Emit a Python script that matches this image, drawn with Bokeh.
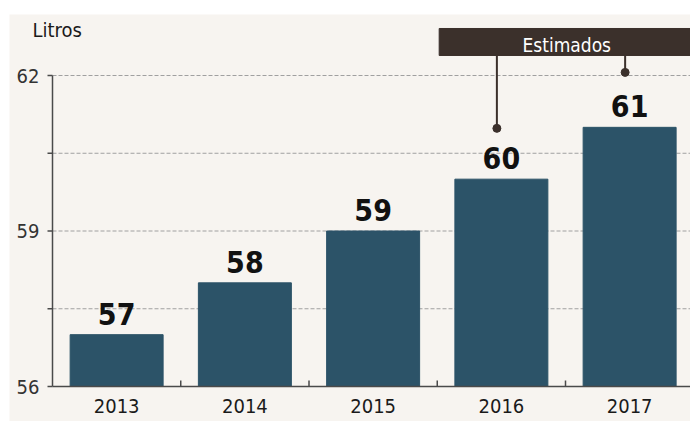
from bokeh.plotting import figure
from bokeh.models import Range1d, Spacer
from bokeh.layouts import column, row
from bokeh.core.properties import value
from bokeh.embed import file_html
from bokeh.resources import INLINE

# ---- data ----
years = ["2013", "2014", "2015", "2016", "2017"]
litros = [57, 58, 59, 60, 61]
y_ticks = [56, 59, 62]
y_minor_ticks = [57.5, 60.5]
estimated_years = ["2016", "2017"]
unit_label = "Litros"
estimate_label = "Estimados"

# ---- style ----
FONT = "DejaVu Sans Condensed, DejaVu Sans, sans-serif"
BG = "#f7f4f0"
BAR = "#2c5368"
DARK = "#3b302b"
AXIS = "#4a4a4a"
GRID = "#a0a0a0"

W, H = 681, 407                 # figure size (frame fills it)
dx = 1 / 128.25                 # data units per pixel (x)
dy = (y_ticks[-1] - y_ticks[0]) / 311   # data units per pixel (y)
x_start = -0.5 - 43 * dx
x_end = x_start + W * dx
y_start = y_ticks[0] - 35 * dy
y_end = y_start + H * dy

xs = list(range(len(years)))
est_idx = [years.index(y) for y in estimated_years]
est_vals = [litros[i] for i in est_idx]
axis_x = -0.5
base = y_ticks[0]

p = figure(width=W, height=H, output_backend="svg", toolbar_location=None,
           x_range=Range1d(x_start, x_end), y_range=Range1d(y_start, y_end),
           min_border=0, background_fill_color=BG, border_fill_color=BG,
           outline_line_color=None)
p.xgrid.visible = False
p.ygrid.visible = False
p.xaxis.visible = False
p.yaxis.visible = False

# horizontal dashed grid lines
grid_vals = sorted([v for v in y_ticks + y_minor_ticks if v > base])
p.segment(x0=[axis_x] * len(grid_vals), x1=[x_end] * len(grid_vals),
          y0=grid_vals, y1=grid_vals, line_color=GRID, line_dash="4 2", line_width=1)

# bars
p.vbar(x=xs, top=litros, bottom=base, width=0.725, color=BAR)

# x axis
p.segment(x0=[axis_x], x1=[x_end], y0=[base], y1=[base], line_color=AXIS, line_width=1.5)
minor_x = [i + 0.5 for i in xs[:-1]]
p.segment(x0=minor_x, x1=minor_x, y0=[base] * len(minor_x),
          y1=[base + 6 * dy] * len(minor_x), line_color=AXIS, line_width=1.5)
p.text(x=xs, y=[base - 19 * dy] * len(xs), text=years, text_align="center",
       text_baseline="middle", text_font=value(FONT), text_font_size="20px",
       text_color="#1a1a1a")

# y axis
p.segment(x0=[axis_x], x1=[axis_x], y0=[y_ticks[0]], y1=[y_ticks[-1]],
          line_color=AXIS, line_width=1.5)
all_ticks = y_ticks + y_minor_ticks
p.segment(x0=[axis_x - 5 * dx] * len(all_ticks), x1=[axis_x] * len(all_ticks),
          y0=all_ticks, y1=all_ticks, line_color=AXIS, line_width=1.5)
p.text(x=[axis_x - 13 * dx] * len(y_ticks), y=y_ticks, text=[str(t) for t in y_ticks],
       text_align="right", text_baseline="middle", text_font=value(FONT),
       text_font_size="20px", text_color="#333333")

# unit label
p.text(x=[axis_x - 20 * dx], y=[y_ticks[-1] + 46 * dy], text=[unit_label],
       text_align="left", text_baseline="middle", text_font=value(FONT),
       text_font_size="20px", text_color="#1a1a1a")

# value labels
p.text(x=xs, y=[v + 21 * dy for v in litros], text=[str(v) for v in litros],
       text_align="center", text_baseline="middle", text_font=value(FONT),
       text_font_size="30px", text_font_style="bold", text_color="#111111")

# "Estimados" banner
box_bottom, box_top = 62.386, 62.907
p.quad(left=[est_idx[0] - 0.485], right=[x_end],
       bottom=[box_bottom], top=[box_top], color=DARK)
p.text(x=[sum(est_idx) / len(est_idx) + 0.01], y=[62.58],
       text=[estimate_label], text_align="center", text_baseline="middle",
       text_font=value(FONT), text_font_size="19px", text_color="#ffffff")

# leader lines
lead_x = [i - 0.035 for i in est_idx]
lead_end = [v + off for v, off in zip(est_vals, [0.98, 1.06])]
p.segment(x0=lead_x, y0=[box_bottom] * len(lead_x), x1=lead_x, y1=lead_end,
          line_color=DARK, line_width=2)
p.scatter(x=lead_x, y=lead_end, size=8, color=DARK)

layout = column(Spacer(height=14), row(Spacer(width=9), p))
open("out.html", "w").write(file_html(layout, INLINE))
